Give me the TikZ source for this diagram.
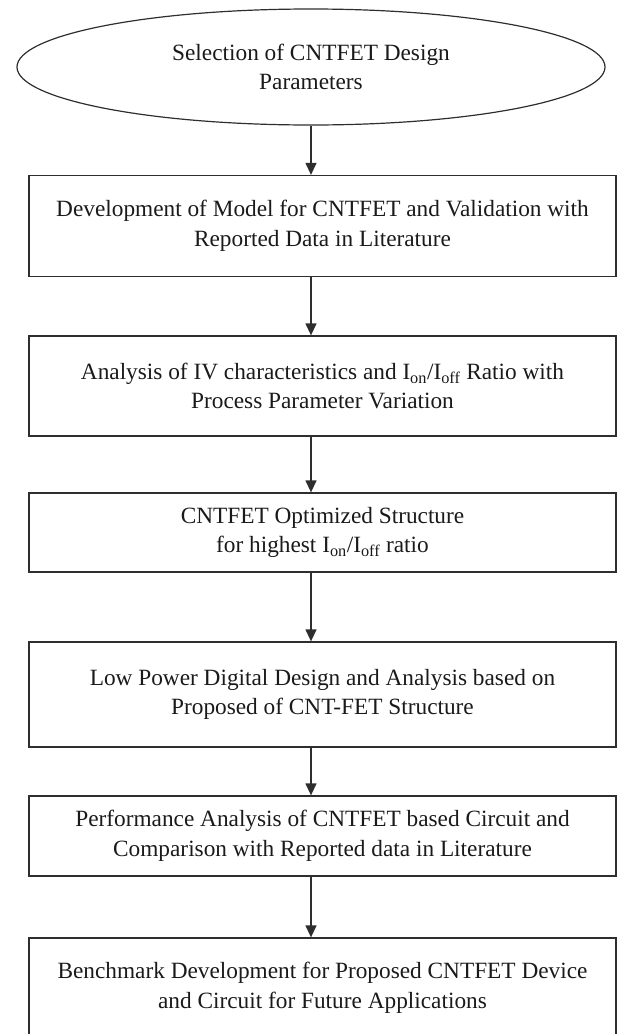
\documentclass[tikz,border=0pt]{standalone}
\usepackage{fontspec}
\setmainfont{Liberation Serif}
\usetikzlibrary{arrows.meta,positioning,shapes.geometric,calc}
\definecolor{txt}{HTML}{1A1A1A}
\definecolor{edge}{HTML}{2E2E2E}

\begin{document}
\begin{tikzpicture}[
  x=1pt, y=-1pt,
  >=Triangle,
  block/.style={draw=edge, line width=1.3pt, minimum width=587pt, inner sep=0pt, align=center, text=txt, font=\fontsize{23.3pt}{29.5pt}\selectfont},
  oval/.style={ellipse, draw=edge, line width=1.2pt, minimum width=588pt, minimum height=116pt, inner sep=0pt, align=center, text=txt, font=\fontsize{23.3pt}{29.5pt}\selectfont},
  arr/.style={-{Triangle[length=12pt,width=11pt]}, line width=1.3pt, color=edge},
]
\useasboundingbox (0,0) rectangle (618,1034);

\node[oval] (select) at (311, 67) {Selection of CNTFET Design\\Parameters};

\node[block, minimum height=101pt] (model) at (322.5, 226) {Development of Model for CNTFET and Validation with\\Reported Data in Literature};
\node[block, minimum height=100pt] (ivchar) at (322.5, 386) {Analysis of IV characteristics and I\textsubscript{on}/I\textsubscript{off} Ratio with\\Process Parameter Variation};
\node[block, minimum height=79pt] (optim) at (322.5, 532.5) {CNTFET Optimized Structure\\for highest I\textsubscript{on}/I\textsubscript{off} ratio};
\node[block, minimum height=105pt] (lowpow) at (322.5, 694.5) {Low Power Digital Design and Analysis based on\\Proposed of CNT-FET Structure};
\node[block, minimum height=80pt] (perf) at (322.5, 836) {Performance Analysis of CNTFET based Circuit and\\Comparison with Reported data in Literature};
\node[block, minimum height=100pt] (bench) at (322.5, 988) {Benchmark Development for Proposed CNTFET Device\\and Circuit for Future Applications};

\draw[arr] (select.south) -- (model.north -| select.south);
\draw[arr] (model.south -| select.south) -- (ivchar.north -| select.south);
\draw[arr] (ivchar.south -| select.south) -- (optim.north -| select.south);
\draw[arr] (optim.south -| select.south) -- (lowpow.north -| select.south);
\draw[arr] (lowpow.south -| select.south) -- (perf.north -| select.south);
\draw[arr] (perf.south -| select.south) -- (bench.north -| select.south);

\end{tikzpicture}
\end{document}
